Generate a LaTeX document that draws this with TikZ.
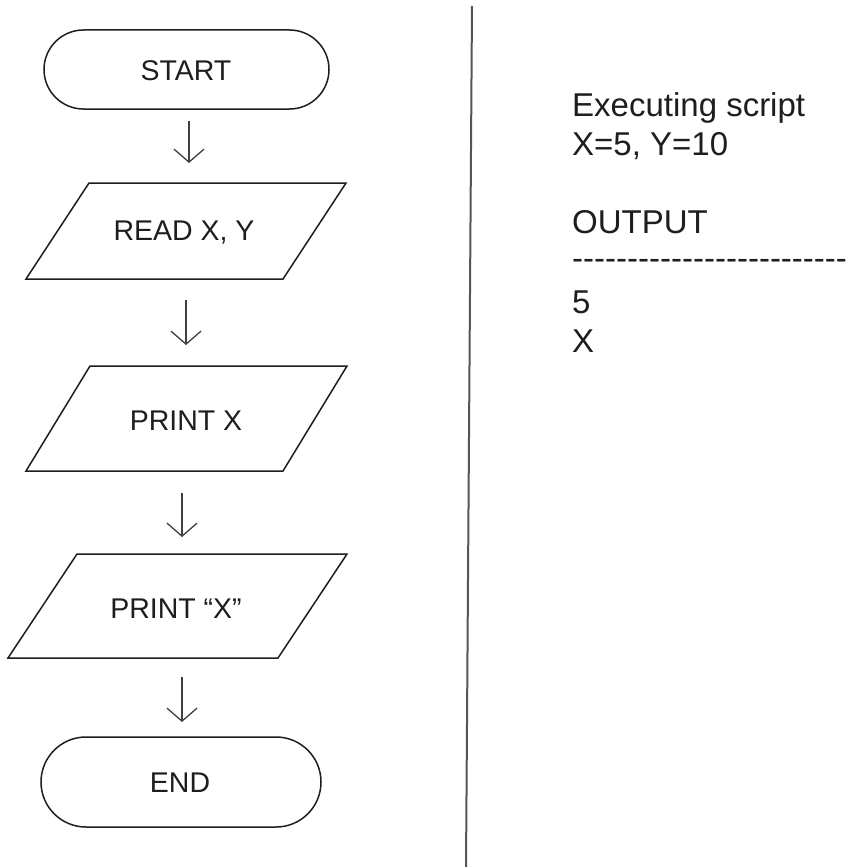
\documentclass[tikz,border=0pt]{standalone}
\usepackage{fontspec}
\setmainfont{Liberation Sans}
\usetikzlibrary{shapes.misc,arrows.meta}
\definecolor{ink}{HTML}{1E1E1E}
\definecolor{rule}{HTML}{555555}
% a single hyphen that never joins its neighbours into a dash ligature
\newcommand\hy{\mbox{-}}
\tikzset{
  outline/.style={draw=ink, line width=1.5pt},
  terminal/.style={outline, rounded rectangle, inner sep=0pt},
  label/.style={inner sep=0pt, text=ink, font=\fontsize{28.5}{34}\selectfont},
  flowarrow/.style={draw=ink!85, line width=1.3pt, -{Straight Barb[length=13pt,width=30pt,line width=1.3pt]}},
  console/.style={inner sep=0pt, anchor=base west, text=ink, font=\fontsize{33}{40}\selectfont}
}
\begin{document}
\begin{tikzpicture}[x=1pt,y=-1pt]
\useasboundingbox (0,0) rectangle (849,867);
\fill[white] (0,0) rectangle (849,867);

% flowchart: terminals
\node[terminal, minimum width=285pt, minimum height=79pt] (start) at (186.5,69.5) {};
\node[label] (startlbl) at (186,71) {START};
\node[terminal, minimum width=280pt, minimum height=90pt] (end) at (181,782) {};
\node[label] (endlbl) at (180,783) {END};

% flowchart: input/output boxes
\draw[outline] (89,183) -- (346,183) -- (283,279) -- (26,279) -- cycle;
\node[label] (read) at (184,233) {READ X, Y};
\draw[outline] (90,366) -- (347,366) -- (283,471) -- (26,471) -- cycle;
\node[label] (printx) at (186,421) {PRINT X};
\draw[outline] (77,554) -- (347,554) -- (278,658) -- (8,658) -- cycle;
\node[label] (printq) at (176,609) {PRINT “X”};

% flow arrows
\coordinate (a1s) at (189,121); \coordinate (a1e) at (189,163);
\coordinate (a2s) at (186,300); \coordinate (a2e) at (186,345);
\coordinate (a3s) at (182,493); \coordinate (a3e) at (182,537);
\coordinate (a4s) at (182,677); \coordinate (a4e) at (182,722);
\draw[flowarrow] (a1s) -- (a1e);
\draw[flowarrow] (a2s) -- (a2e);
\draw[flowarrow] (a3s) -- (a3e);
\draw[flowarrow] (a4s) -- (a4e);

% divider
\coordinate (divtop) at (472,6);
\coordinate (divbot) at (466,867);
\draw[rule, line width=2pt] (divtop) -- (divbot);

% console output
\node[console] (exec) at (572,116) {Executing script};
\node[console] (vals) at (572,155) {X=5, Y=10};
\node[console] (outhead) at (572,233) {OUTPUT};
\node[console] (dashes) at (572,269) {\hy\hy\hy\hy\hy\hy\hy\hy\hy\hy\hy\hy\hy\hy\hy\hy\hy\hy\hy\hy\hy\hy\hy\hy\hy};
\node[console] (out1) at (572,313) {5};
\node[console] (out2) at (572,352) {X};
\end{tikzpicture}
\end{document}
